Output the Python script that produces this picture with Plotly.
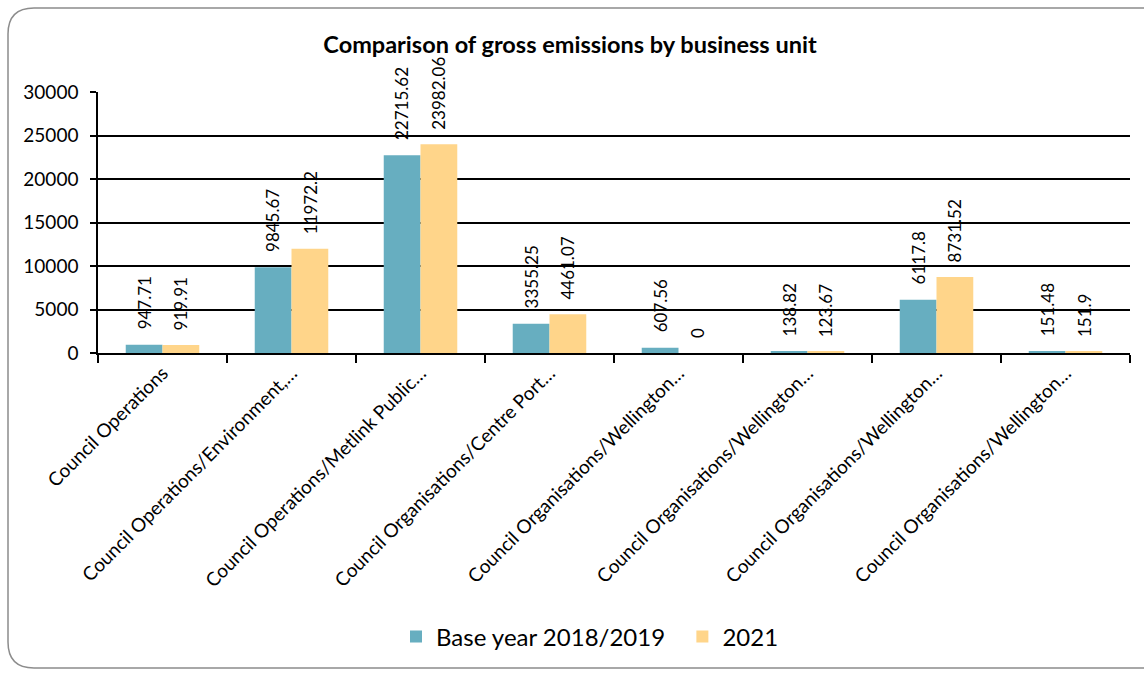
import plotly.graph_objects as go

categories = [
    "Council Operations",
    "Council Operations/Environment,…",
    "Council Operations/Metlink Public…",
    "Council Organisations/Centre Port…",
    "Council Organisations/Wellington…",
    "Council Organisations/Wellington…",
    "Council Organisations/Wellington…",
    "Council Organisations/Wellington…",
]
base_year = [947.71, 9845.67, 22715.62, 3355.25, 607.56, 138.82, 6117.8, 151.48]
year_2021 = [919.91, 11972.2, 23982.06, 4461.07, 0, 123.67, 8731.52, 151.9]
base_labels = ["947.71", "9845.67", "22715.62", "3355.25", "607.56", "138.82", "6117.8", "151.48"]
y2021_labels = ["919.91", "11972.2", "23982.06", "4461.07", "0", "123.67", "8731.52", "151.9"]
y_ticks = [0, 5000, 10000, 15000, 20000, 25000, 30000]
series_names = ["Base year 2018/2019\u00a0\u00a0", "2021"]

W, H = 1144, 673
ML, MR, MT, MB = 98, 14, 92, 320
FONT = "Lato"
BLUE = "#67AEC0"
YELLOW = "#FFD58A"
BARGAP = 0.43

xs = list(range(len(categories)))

fig = go.Figure()
fig.add_trace(go.Bar(x=xs, y=base_year, name=series_names[0],
                     marker=dict(color=BLUE, line=dict(width=0))))
fig.add_trace(go.Bar(x=xs, y=year_2021, name=series_names[1],
                     marker=dict(color=YELLOW, line=dict(width=0))))

off = (1 - BARGAP) / 4
annotations = []
for i in xs:
    for dx, val, lab in ((-off, base_year[i], base_labels[i]), (off, year_2021[i], y2021_labels[i])):
        annotations.append(dict(x=i + dx, y=val, xref="x", yref="y", text=lab,
                                showarrow=False, textangle=-90, yanchor="bottom",
                                xanchor="center", yshift=13,
                                font=dict(family=FONT, size=17, color="#000")))

# rounded outer border (in paper coords relative to plot area)
pw = W - ML - MR
ph = H - MT - MB
def px(x):
    return (x - ML) / pw
def py(y):
    return (H - MB - y) / ph
x0, x1, y0, y1, r = 8, 1160, 8, 668, 26
path = (f"M {px(x0 + r)},{py(y0)} L {px(x1)},{py(y0)} L {px(x1)},{py(y1)} "
        f"L {px(x0 + r)},{py(y1)} Q {px(x0)},{py(y1)} {px(x0)},{py(y1 - r)} "
        f"L {px(x0)},{py(y0 + r)} Q {px(x0)},{py(y0)} {px(x0 + r)},{py(y0)} Z")

fig.update_layout(
    width=W, height=H,
    margin=dict(l=ML, r=MR, t=MT, b=MB),
    paper_bgcolor="white", plot_bgcolor="white",
    barmode="group", bargap=BARGAP, bargroupgap=0,
    font=dict(family=FONT, size=19, color="#000"),
    title=dict(text="<b>Comparison of gross emissions by business unit</b>",
               x=570 / W, xanchor="center", y=1 - 45 / H, yanchor="middle",
               font=dict(family=FONT, size=23.5, color="#000")),
    showlegend=True,
    legend=dict(orientation="h", x=px(590), xanchor="center", y=py(637), yanchor="middle",
                yref="paper", font=dict(family=FONT, size=24, color="#000"),
                itemsizing="constant", traceorder="normal", itemwidth=30),
    annotations=annotations,
    shapes=[dict(type="path", path=path, xref="paper", yref="paper",
                 line=dict(color="#8c8c8c", width=1.5), layer="below")],
)
fig.update_xaxes(
    range=[-0.5, len(categories) - 0.5],
    tickvals=xs, ticktext=categories, tickangle=-45,
    ticks="outside", ticklen=0, showgrid=False,
    minor=dict(ticks="outside", tick0=-0.5, dtick=1, ticklen=8, tickcolor="#000", tickwidth=1.5, showgrid=False),
    showline=True, linecolor="#000", linewidth=1.5,
    tickfont=dict(family=FONT, size=19, color="#000"),
    zeroline=False,
)
fig.update_yaxes(
    range=[0, 30000], tickvals=y_ticks, ticktext=[str(v) for v in y_ticks],
    ticks="outside", ticklen=6, tickcolor="#000", tickwidth=1.5,
    showgrid=True, gridcolor="#000", gridwidth=1.5,
    showline=True, linecolor="#000", linewidth=1.5,
    zeroline=False, ticklabelstandoff=8,
    tickfont=dict(family=FONT, size=19, color="#000"),
)

fig.write_html("out.html", config={"displayModeBar": False},
               post_script="document.body.style.margin='0';document.body.style.overflow='hidden';")
